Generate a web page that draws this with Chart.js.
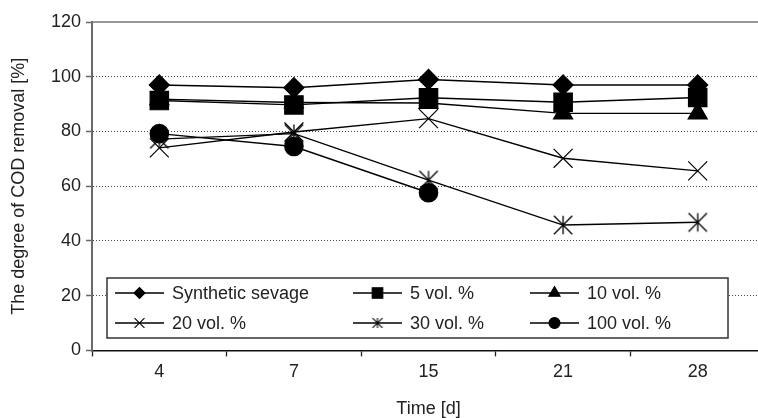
<!DOCTYPE html>
<html>
<head>
<meta charset="utf-8">
<script src="https://cdn.jsdelivr.net/npm/chart.js@4/dist/chart.umd.min.js"></script>
<style>
html,body{margin:0;padding:0;overflow:hidden;background:#fff;}
canvas{display:block;}
</style>
</head>
<body>
<canvas id="c" width="765" height="418"></canvas>
<script>
const categories = ['4', '7', '15', '21', '28'];
const seriesNames = ['Synthetic sevage', '5 vol. %', '10 vol. %', '20 vol. %', '30 vol. %', '100 vol. %'];
const synthetic = [97, 96, 99, 97, 97];
const vol5 = [91.3, 89.7, 92.3, 90.7, 92.4];
const vol10 = [91.8, 90.6, 90.4, 86.6, 86.6];
const vol20 = [74, 79.8, 84.7, 70.2, 65.6];
const vol30 = [77.2, 79.2, 62.2, 45.8, 46.8];
const vol100 = [79.2, 74.5, 57.6, null, null];
const yTicks = [0, 20, 40, 60, 80, 100, 120];

function makeAsterisk(r, lw) {
  const s = Math.ceil(2 * r + 4);
  const cv = document.createElement('canvas');
  cv.width = s; cv.height = s;
  const g = cv.getContext('2d');
  const c = s / 2, d = r * Math.SQRT1_2;
  g.strokeStyle = '#000'; g.lineWidth = lw;
  g.beginPath();
  g.moveTo(c - d, c - d); g.lineTo(c + d, c + d);
  g.moveTo(c + d, c - d); g.lineTo(c - d, c + d);
  g.moveTo(c, c - r * 0.72); g.lineTo(c, c + r * 0.72);
  g.stroke();
  return cv;
}
const starBig = makeAsterisk(13, 1.3);
const starSmall = makeAsterisk(7, 1.1);

const styles = [
  {ps: 'rectRot', r: 10, lr: 5.5},
  {ps: 'rect', r: 13, lr: 7.5},
  {ps: 'triangle', r: 11, lr: 6.5},
  {ps: 'crossRot', r: 13.4, lr: 7},
  {ps: starBig, r: 13, lr: 7, legendPs: starSmall},
  {ps: 'circle', r: 9.2, lr: 5.5}
];
const seriesData = [synthetic, vol5, vol10, vol20, vol30, vol100];

const datasets = seriesData.map((d, i) => ({
  label: seriesNames[i],
  data: d,
  borderColor: '#000',
  backgroundColor: '#000',
  borderWidth: 1.4,
  pointStyle: styles[i].ps,
  pointRadius: styles[i].r,
  pointHoverRadius: styles[i].r,
  pointBorderColor: '#000',
  pointBackgroundColor: '#000',
  pointBorderWidth: 1.2,
  tension: 0,
  spanGaps: false,
  order: seriesData.length - 1 - i
}));

const frameAndLegend = {
  id: 'frameAndLegend',
  afterDraw(chart) {
    const ctx = chart.ctx;
    const a = chart.chartArea;
    ctx.save();
    // top frame line
    ctx.strokeStyle = '#777';
    ctx.lineWidth = 1.6;
    ctx.beginPath();
    ctx.moveTo(a.left, a.top);
    ctx.lineTo(a.right, a.top);
    ctx.moveTo(a.right, a.top);
    ctx.lineTo(a.right, a.bottom);
    ctx.stroke();
    // legend box
    const bx = 107, by = 278, bw = 621, bh = 60;
    ctx.fillStyle = '#fff';
    ctx.fillRect(bx, by, bw, bh);
    ctx.strokeStyle = '#333';
    ctx.lineWidth = 1.5;
    ctx.strokeRect(bx, by, bw, bh);
    const colX = [115, 353, 530];
    const rowY = [293, 323];
    const lineLen = 49;
    ctx.font = '18px "Liberation Sans", Arial, sans-serif';
    ctx.textBaseline = 'middle';
    ctx.textAlign = 'left';
    chart.data.datasets.forEach((ds, i) => {
      const x = colX[i % 3], y = rowY[Math.floor(i / 3)];
      ctx.strokeStyle = '#000';
      ctx.lineWidth = 1.4;
      ctx.beginPath();
      ctx.moveTo(x, y);
      ctx.lineTo(x + lineLen, y);
      ctx.stroke();
      const st = styles[i];
      ctx.fillStyle = '#000';
      ctx.strokeStyle = '#000';
      ctx.lineWidth = 1.1;
      Chart.helpers.drawPoint(ctx, {pointStyle: st.legendPs || st.ps, radius: st.lr, rotation: 0, borderWidth: 1.1}, x + lineLen / 2, y);
      ctx.fillStyle = '#222';
      ctx.fillText(ds.label, x + 57, y + 1);
    });
    ctx.restore();
  }
};

new Chart(document.getElementById('c'), {
  type: 'line',
  data: {labels: categories, datasets: datasets},
  options: {
    responsive: false,
    animation: false,
    events: [],
    layout: {autoPadding: false, padding: {top: 22, right: 0, bottom: 0, left: 0}},
    plugins: {legend: {display: false}, tooltip: {enabled: false}},
    scales: {
      x: {
        type: 'category',
        offset: true,
        grid: {
          display: true,
          offset: true,
          drawOnChartArea: false,
          drawTicks: true,
          tickLength: 6,
          tickColor: '#222',
          tickWidth: 1.3
        },
        border: {display: true, color: '#111', width: 1.5},
        ticks: {
          color: '#222',
          padding: 5,
          font: {family: '"Liberation Sans", Arial, sans-serif', size: 18, lineHeight: 1.2}
        },
        title: {
          display: true,
          text: 'Time [d]',
          color: '#222',
          font: {family: '"Liberation Sans", Arial, sans-serif', size: 18, lineHeight: 1.0},
          padding: {top: 12, bottom: 0}
        }
      },
      y: {
        min: 0,
        max: 120,
        afterBuildTicks(scale) { scale.ticks = yTicks.map(v => ({value: v})); },
        grid: {
          display: true,
          drawOnChartArea: true,
          color: (ctx) => (ctx.tick && (ctx.tick.value === 0 || ctx.tick.value === 120)) ? 'rgba(0,0,0,0)' : '#444',
          lineWidth: 1,
          drawTicks: true,
          tickLength: 6,
          tickColor: '#666',
          tickWidth: 1.5,
          tickBorderDash: []
        },
        border: {display: true, color: '#6a6a6a', width: 2, dash: [1, 2]},
        ticks: {
          color: '#222',
          padding: 5,
          font: {family: '"Liberation Sans", Arial, sans-serif', size: 18, lineHeight: 1.2}
        },
        title: {
          display: true,
          text: 'The degree of COD removal [%]',
          color: '#222',
          font: {family: '"Liberation Sans", Arial, sans-serif', size: 18, lineHeight: 1.0},
          padding: {top: 10, bottom: 18}
        }
      }
    }
  },
  plugins: [frameAndLegend]
});
</script>
</body>
</html>
